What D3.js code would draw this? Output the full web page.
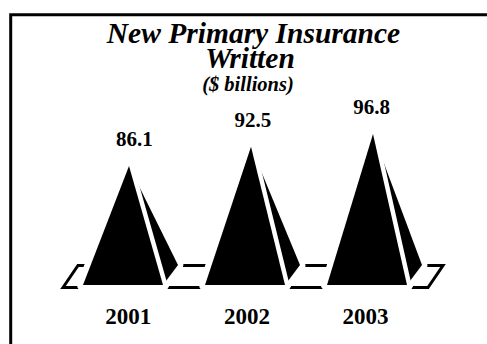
<!DOCTYPE html>
<html><head><meta charset="utf-8">
<script src="https://cdn.jsdelivr.net/npm/d3@7"></script>
<style>html,body{margin:0;padding:0;background:#fff;}svg{display:block;}</style>
</head><body>
<script>
const categories = ["2001", "2002", "2003"];
const values = [86.1, 92.5, 96.8];
const valueLabels = ["86.1", "92.5", "96.8"];
const titleLines = ["New Primary Insurance", "Written"];
const subtitle = "($ billions)";

const W = 487, H = 344;
const svg = d3.select("body").append("svg").attr("width", W).attr("height", H);

// frame (left and top edges visible)
svg.append("path").attr("d", `M10.7,${H}V14.7H${W}`).attr("fill", "none")
  .attr("stroke", "#000").attr("stroke-width", 3);

const x = d3.scalePoint().domain(categories).range([123, 367]);
const xl = d3.scalePoint().domain(categories).range([128.3, 365.5]);
const y = d3.scaleLinear().domain([46.3, 96.8]).range([285, 134]);
const baseY = y(46.3);
const half = 40, apexDx = 6, backDx = 15, backDy = 20;

// title
const font = "'Liberation Serif','Times New Roman',serif";
svg.append("text").attr("x", 253.5).attr("y", 43).attr("text-anchor", "middle")
  .attr("font-family", font).attr("font-weight", "bold").attr("font-style", "italic")
  .attr("font-size", 29.5).text(titleLines[0]);
svg.append("text").attr("x", 250).attr("y", 68).attr("text-anchor", "middle")
  .attr("font-family", font).attr("font-weight", "bold").attr("font-style", "italic")
  .attr("font-size", 29.5).text(titleLines[1]);
svg.append("text").attr("x", 248).attr("y", 91).attr("text-anchor", "middle")
  .attr("font-family", font).attr("font-weight", "bold").attr("font-style", "italic")
  .attr("font-size", 20.5).text(subtitle);

// floor parallelogram
const x0 = x(categories[0]), x1 = x(categories[categories.length - 1]);
const floorTop = baseY - 19.5, floorBot = baseY + 2.5;
const floor = [[x0 - 60, floorBot], [x0 - 45, floorTop], [x1 + 76, floorTop], [x1 + 61, floorBot]];
svg.append("path").attr("d", d3.line()(floor) + "Z").attr("fill", "none")
  .attr("stroke", "#000").attr("stroke-width", 3).attr("stroke-linejoin", "miter");

const line = d3.line();
const data = categories.map((c, i) => {
  const cx = x(c), ay = y(values[i]);
  const front = [[cx - half, baseY], [cx + half, baseY], [cx + apexDx, ay]];
  const side = [[cx + apexDx, ay], [cx + half + backDx, baseY - backDy], [cx + half, baseY]];
  return {c, v: values[i], label: valueLabels[i], cx, lx: xl(c), ay, front, side};
});

const g = svg.selectAll("g.pyr").data(data).join("g").attr("class", "pyr");
// halo cutting the floor
g.append("path").attr("d", d => line(d.side) + "Z").attr("fill", "#fff")
  .attr("stroke", "#fff").attr("stroke-width", 11).attr("stroke-linejoin", "round");
g.append("path").attr("d", d => line(d.front) + "Z").attr("fill", "#fff")
  .attr("stroke", "#fff").attr("stroke-width", 12).attr("stroke-linejoin", "round");
// side face
g.append("path").attr("d", d => line(d.side) + "Z").attr("fill", "#000");
// gap between faces
g.append("path").attr("d", d => line(d.front) + "Z").attr("fill", "#fff")
  .attr("stroke", "#fff").attr("stroke-width", 9).attr("stroke-linejoin", "round");
// front face
g.append("path").attr("d", d => line(d.front) + "Z").attr("fill", "#000");

// value labels
g.append("text").attr("x", d => d.lx + 6).attr("y", d => d.ay - 20)
  .attr("text-anchor", "middle").attr("font-family", font).attr("font-weight", "bold")
  .attr("font-size", 21).text(d => d.label);
// category labels
g.append("text").attr("x", d => d.lx).attr("y", 324)
  .attr("text-anchor", "middle").attr("font-family", font).attr("font-weight", "bold")
  .attr("font-size", 23).text(d => d.c);
</script>
</body></html>
